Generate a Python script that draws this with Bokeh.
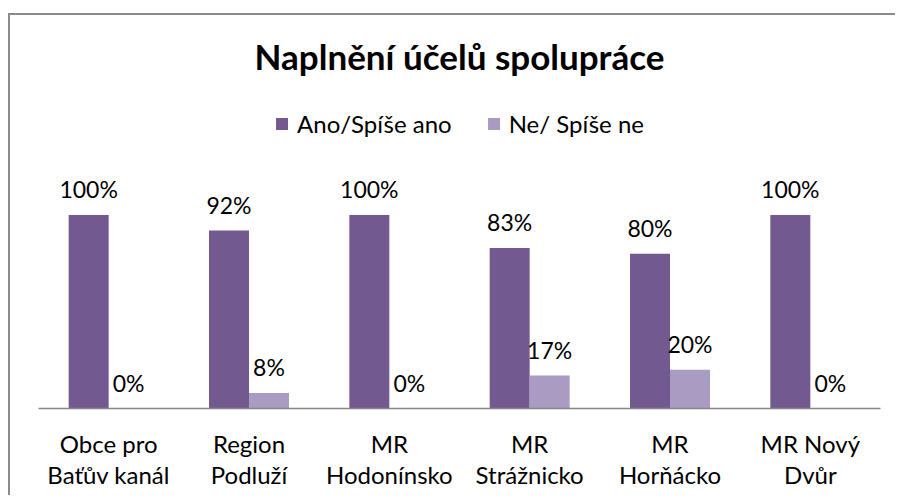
from bokeh.plotting import figure
from bokeh.models import ColumnDataSource, LabelSet, Legend, LegendItem, FactorRange
from bokeh.core.properties import value
from bokeh.transform import dodge
from bokeh.embed import file_html
from bokeh.resources import INLINE

categories = ["Obce pro\nBaťův kanál", "Region\nPodluží", "MR\nHodonínsko",
              "MR\nStrážnicko", "MR\nHorňácko", "MR Nový\nDvůr"]
ano = [100, 92, 100, 83, 80, 100]
ne = [0, 8, 0, 17, 20, 0]
series_names = ["Ano/Spíše ano", "Ne/ Spíše ne"]
colors = ["#725A91", "#A99BC1"]

FONT = "Lato"

src = ColumnDataSource(dict(
    cat=categories, ano=ano, ne=ne,
    ano_lbl=[f"{v}%" for v in ano], ne_lbl=[f"{v}%" for v in ne],
))

frame_h = 315
px_per_pct = 1.94
y_end = frame_h / px_per_pct

p = figure(
    x_range=FactorRange(*categories, range_padding=0),
    y_range=(0, y_end),
    width=887, height=482,
    min_border_left=28, min_border_right=17,
    min_border_top=78, min_border_bottom=89,
    output_backend="svg", toolbar_location=None,
    title="Naplnění účelů spolupráce",
)
p.styles = {"margin-left": "8px", "margin-top": "13px", "overflow": "hidden",
            "border-top": "2px solid #8A8A8A", "border-left": "2px solid #8A8A8A",
            "border-right": "0px none transparent", "border-bottom": "0px none transparent",
            "outline": "none", "box-shadow": "none"}
p.x_range.factor_padding = 0
p.outline_line_color = None
p.background_fill_color = "white"
p.border_fill_color = "white"

p.title.align = "center"
p.title.text_font = FONT
p.title.text_font_style = "bold"
p.title.text_font_size = "35px"
p.title.text_color = "black"
p.title.standoff = 35

bw = 40 / 140.33
off = 20 / 140.33
r1 = p.vbar(x=dodge("cat", -off, range=p.x_range), top="ano", width=bw,
            source=src, color=colors[0], line_color=None)
r2 = p.vbar(x=dodge("cat", off, range=p.x_range), top="ne", width=bw,
            source=src, color=colors[1], line_color=None)

for col, lbl, o in (("ano", "ano_lbl", -off), ("ne", "ne_lbl", off)):
    ls = LabelSet(x=dodge("cat", o, range=p.x_range), y=col, text=lbl, source=src,
                  text_align="center", text_baseline="alphabetic", y_offset=17,
                  text_font=value(FONT), text_font_size=value("23px"),
                  text_color="black")
    p.add_layout(ls)

legend = Legend(items=[LegendItem(label=series_names[0], renderers=[r1]),
                       LegendItem(label=series_names[1], renderers=[r2])],
                orientation="horizontal", location="top_center",
                glyph_width=15, glyph_height=15, label_standoff=8, spacing=34,
                padding=0, margin=15, border_line_color=None,
                background_fill_alpha=0,
                label_text_font=FONT, label_text_font_size="24px",
                label_text_color="black")
p.add_layout(legend)

p.yaxis.visible = False
p.grid.visible = False
p.xaxis.axis_line_color = "#868686"
p.xaxis.axis_line_width = 1.5
p.xaxis.major_tick_line_color = None
p.xaxis.minor_tick_line_color = None
p.xaxis.major_label_text_font = FONT
p.xaxis.major_label_text_font_size = "24px"
p.xaxis.major_label_text_color = "black"
p.xaxis.major_label_text_line_height = 1.1
p.xaxis.major_label_standoff = 14

open("out.html", "w").write(file_html(p, INLINE))
